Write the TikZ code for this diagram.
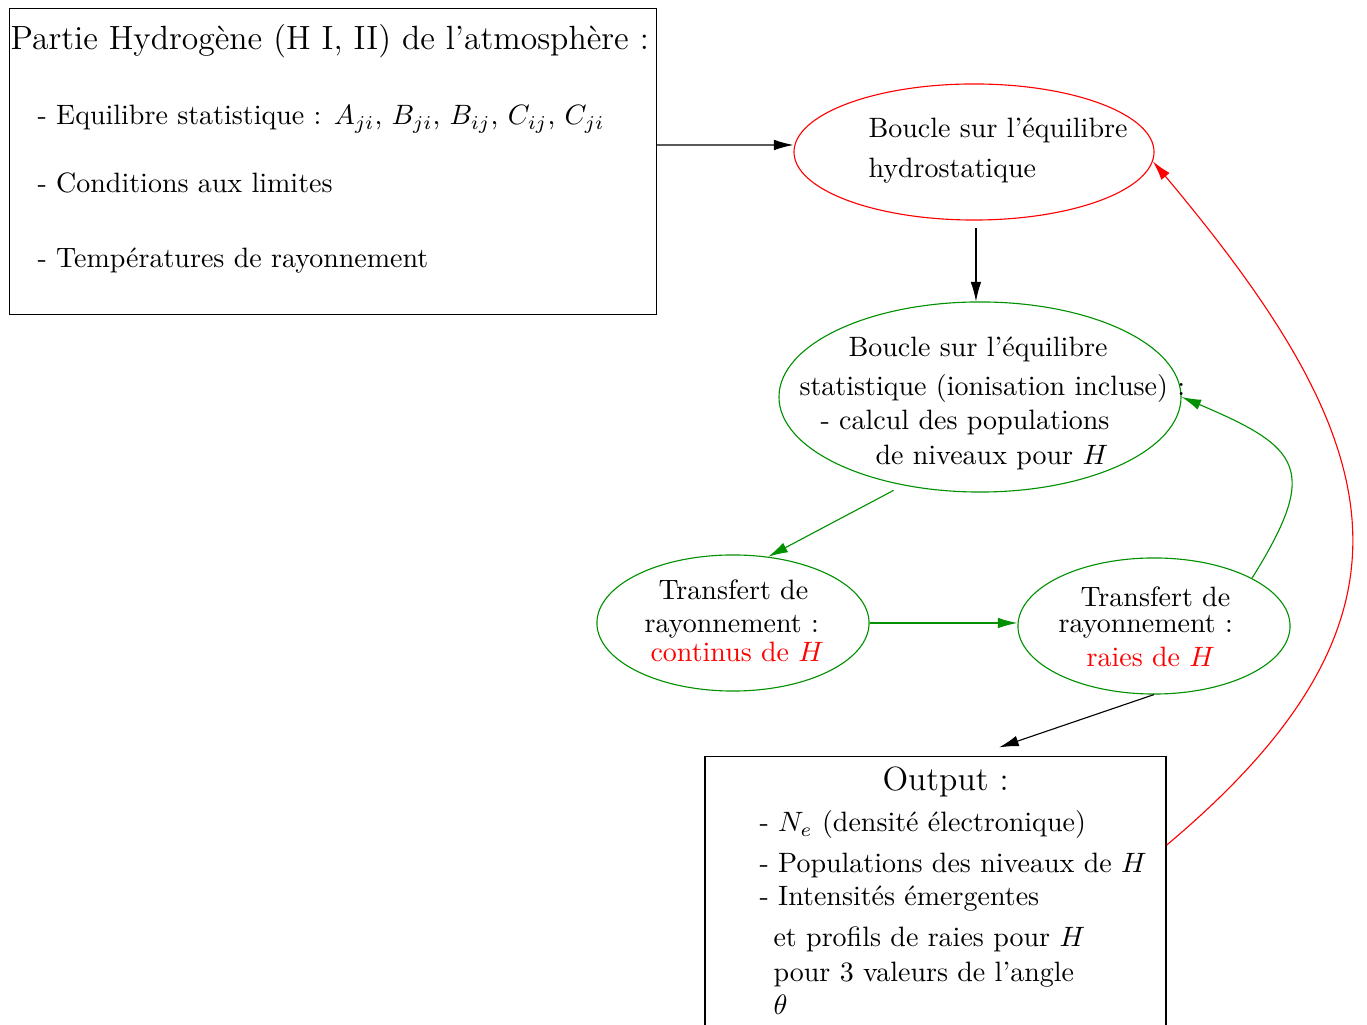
\documentclass[tikz,border=0pt]{standalone}
\usepackage{fontspec}
\usepackage{amsmath}
\usetikzlibrary{shapes.geometric}
\usetikzlibrary{arrows.meta}
\definecolor{vertfig}{RGB}{0,144,0}
\tikzset{
  txt/.style={anchor=base west, inner sep=0pt},
  grand/.style={font=\fontsize{12}{14}\selectfont},
  boite/.style={draw, rectangle, inner sep=0pt},
  bulle/.style={draw, ellipse, inner sep=0pt, minimum width=97.2pt, minimum height=48.6pt}
}
\begin{document}
\begin{tikzpicture}[x=0.3572pt, y=-0.3572pt, >={Latex[length=7pt,width=3.8pt]}]
\useasboundingbox (0,0) rectangle (1367,1025);
\node[boite, minimum width=230.8pt, minimum height=109pt] (partie) at (333,161.5) {};
\node[bulle, red, minimum width=128.6pt] (hydro) at (974,152) {};
\node[bulle, vertfig, minimum width=143.6pt, minimum height=67.9pt] (stat) at (980,397) {};
\node[bulle, vertfig] (cont) at (733,623) {};
\node[bulle, vertfig] (raies) at (1154,626) {};
\node[boite, minimum width=164.7pt, minimum height=107.2pt] (output) at (935.5,907) {};

\node[txt, grand] (titre) at (10,50) {Partie Hydrogène (H I, II) de l'atmosphère :};
\foreach \y/\n/\t in {125/eq/{- Equilibre statistique : $A_{ji}$, $B_{ji}$, $B_{ij}$, $C_{ij}$, $C_{ji}$},
  193/cond/{- Conditions aux limites}, 268/temp/{- Températures de rayonnement}}
  \node[txt] (\n) at (37,\y) {\t};

\node[txt] (hydro1) at (868,138) {Boucle sur l'équilibre};
\node[txt] (hydro2) at (868,178) {hydrostatique};

\node[txt] (stat1) at (848,357) {Boucle sur l'équilibre};
\node[txt] (stat2) at (799,396) {statistique (ionisation incluse) :};
\node[txt] (stat3) at (820,430) {- calcul des populations};
\node[txt] (stat4) at (875,465) {de niveaux pour $H$};

\node[txt] (cont1) at (658,600) {Transfert de};
\node[txt] (cont2) at (644,633) {rayonnement :};
\node[txt, red] (cont3) at (650,662) {continus de $H$};

\node[txt] (raies1) at (1080,607) {Transfert de};
\node[txt] (raies2) at (1058,633) {rayonnement :};
\node[txt, red] (raies3) at (1086,667) {raies de $H$};

\node[txt, grand] (out0) at (882,791) {Output :};
\foreach \y/\n/\t in {832/out1/{- $N_e$ (densité électronique)}, 873/out2/{- Populations des niveaux de $H$},
  906/out3/{- Intensités émergentes}}
  \node[txt] (\n) at (759,\y) {\t};
\foreach \y/\n/\t in {947/out4/{et profils de raies pour $H$}, 982/out5/{pour 3 valeurs de l'angle}, 1015/out6/{$\theta$}}
  \node[txt] (\n) at (773,\y) {\t};

\draw[->] ([yshift=5.9pt]partie.east) -- ([yshift=2.5pt]hydro.west);
\draw[->, shorten <=2.5pt] ([xshift=0.7pt]hydro.south) -- ([xshift=0.7pt]hydro.south |- stat.north);
\draw[->, vertfig] ([yshift=-2.5pt]stat.225) -- (cont.62);
\draw[->, vertfig] (cont.east) -- (cont.east -| raies.west);
\draw[->, vertfig] (raies.26) to[out=58, in=-23, looseness=1.7] (stat.east);
\draw[->] (raies.south) -- ([xshift=22.7pt,yshift=3.2pt]output.north);
\draw[->, red] ([yshift=22.1pt]output.east) to[out=40, in=-50, looseness=1.35] (hydro.-3);
\end{tikzpicture}
\end{document}
